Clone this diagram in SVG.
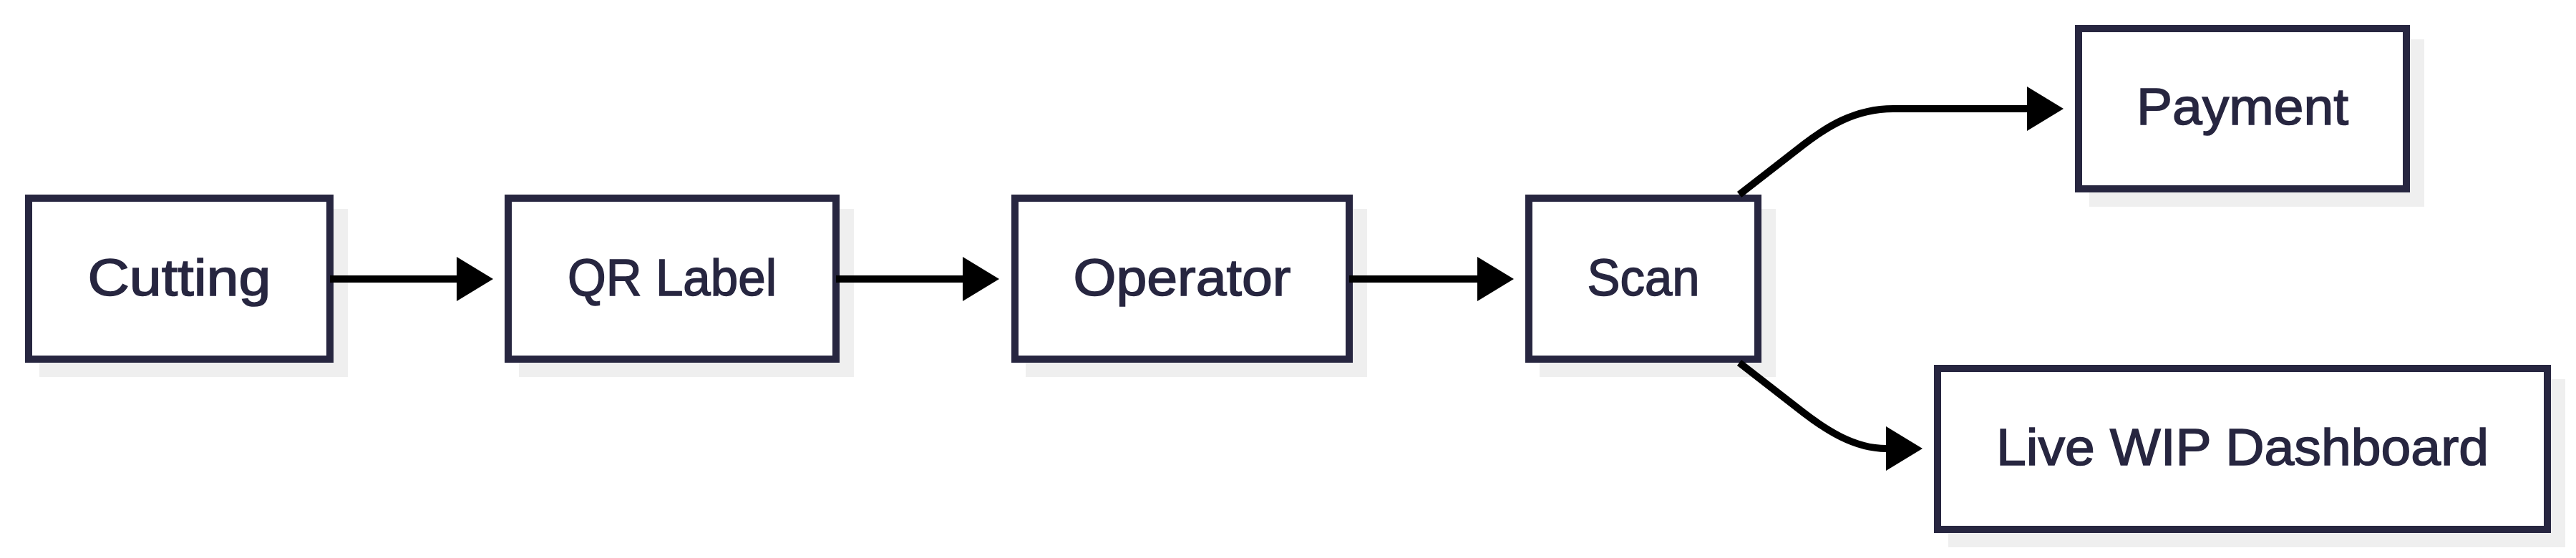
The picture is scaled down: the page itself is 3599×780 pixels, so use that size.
<svg xmlns="http://www.w3.org/2000/svg" width="3599" height="780" viewBox="0 0 3599 780">
<defs>
<style>
.shadow{fill:#efefef}
.box{fill:#fff;stroke:#272640;stroke-width:10}
.label{font-family:"Liberation Sans",Arial,sans-serif;font-size:72px;fill:#272640;stroke:#272640;stroke-width:1.5;text-anchor:middle}
.edge{fill:none;stroke:#000;stroke-width:10}
</style>
<marker id="arrow" markerUnits="userSpaceOnUse" viewBox="0 0 51 62" refX="0" refY="31" markerWidth="51" markerHeight="62" orient="auto">
<path d="M0,0 L51,31 L0,62 Z" fill="#000"/>
</marker>
</defs>
<rect width="3599" height="780" fill="#fff"/>
<g id="cutting">
<rect class="shadow" x="55" y="292" width="431" height="235"/>
<rect class="box" x="40" y="277" width="421" height="225"/>
<text class="label" x="250.5" y="413" textLength="256" lengthAdjust="spacingAndGlyphs">Cutting</text>
</g>
<g id="qr-label">
<rect class="shadow" x="725" y="292" width="468" height="235"/>
<rect class="box" x="710" y="277" width="458" height="225"/>
<text class="label" x="939" y="413" textLength="292" lengthAdjust="spacingAndGlyphs">QR Label</text>
</g>
<g id="operator">
<rect class="shadow" x="1433" y="292" width="477" height="235"/>
<rect class="box" x="1418" y="277" width="467" height="225"/>
<text class="label" x="1651.5" y="413" textLength="304" lengthAdjust="spacingAndGlyphs">Operator</text>
</g>
<g id="scan">
<rect class="shadow" x="2151" y="292" width="330" height="235"/>
<rect class="box" x="2136" y="277" width="320" height="225"/>
<text class="label" x="2296" y="413" textLength="157" lengthAdjust="spacingAndGlyphs">Scan</text>
</g>
<g id="payment">
<rect class="shadow" x="2919" y="55" width="468" height="234"/>
<rect class="box" x="2904" y="40" width="458" height="224"/>
<text class="label" x="3133" y="174" textLength="296" lengthAdjust="spacingAndGlyphs">Payment</text>
</g>
<g id="dashboard">
<rect class="shadow" x="2722" y="530" width="862" height="235"/>
<rect class="box" x="2707" y="515" width="852" height="225"/>
<text class="label" x="3133" y="650" textLength="688" lengthAdjust="spacingAndGlyphs">Live WIP Dashboard</text>
</g>
<g id="connectors">
<path class="edge" d="M461 390 L638 390" marker-end="url(#arrow)"/>
<path class="edge" d="M1168 390 L1345 390" marker-end="url(#arrow)"/>
<path class="edge" d="M1885 390 L2064 390" marker-end="url(#arrow)"/>
<path class="edge" d="M2430 272 L2520 202 C2550 179 2590 152 2645 152 L2832 152" marker-end="url(#arrow)"/>
<path class="edge" d="M2430 507 L2520 577 C2550 600 2590 627 2635 627" marker-end="url(#arrow)"/>
</g>
</svg>
